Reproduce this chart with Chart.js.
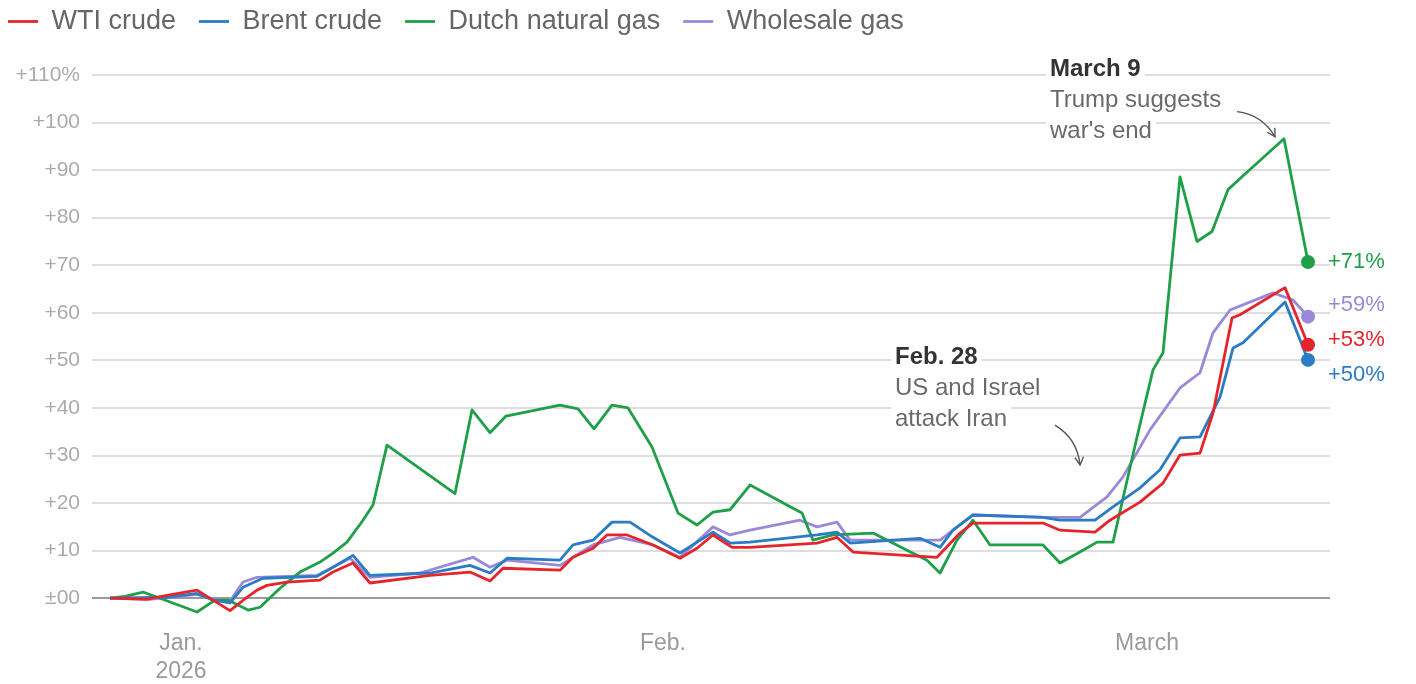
<!DOCTYPE html>
<html><head><meta charset="utf-8">
<script src="https://cdn.jsdelivr.net/npm/chart.js@4/dist/chart.umd.min.js"></script>
<style>html,body{margin:0;padding:0;background:#fff;}#wrap{width:1416px;height:684px;}</style>
</head><body><div id="wrap"><canvas id="c" width="1416" height="684"></canvas></div>
<script>
// x = trading-session index counted from Dec. 31, 2025 ; y = % change since then
const seriesNames = ['WTI crude', 'Brent crude', 'Dutch natural gas', 'Wholesale gas'];
const seriesColors = ['#e5252b', '#2b7cc4', '#1f9f48', '#9b89d8'];
const endLabels = ['+53%', '+50%', '+71%', '+59%'];

const wtiX = [0,1.48,2.28,3.48,4.12,4.8,5.48,5.88,6.28,7.08,8.4,8.92,9.72,10.4,12.8,14.4,15.2,15.72,18,18.52,19.32,19.88,20.68,21.72,22.8,23.48,24.12,24.88,25.6,28.28,29.08,29.72,33.08,34,34.52,37.32,38,39.4,40,41.2,42.12,42.8,43.6,44.12,44.88,45.2,47,47.92];
const wtiY = [0,-0.2,0.6,1.7,-0.4,-2.6,0.2,1.7,2.7,3.4,3.8,5.5,7.4,3.2,4.8,5.5,3.6,6.3,5.9,8.6,10.5,13.3,13.3,11.2,8.4,10.5,13.3,10.7,10.7,11.6,12.8,9.7,8.6,13.7,15.8,15.8,14.3,13.9,16.4,20.2,24.2,30.1,30.5,38.9,58.9,59.6,65.3,53.3];

const brentX = [0,2.28,3.48,4.12,4.8,5.32,6.12,8.28,8.92,9.72,10.4,12.8,14.4,15.2,15.88,18,18.52,19.32,20.08,20.8,21.72,22.8,24.12,24.8,25.6,28.28,29.08,29.6,32.4,33.2,33.72,34.52,37.32,38,39.4,40.12,41.2,42,42.8,43.6,44.4,44.92,45.32,47,47.92];
const brentY = [0,0.2,1.0,-0.4,-1.0,2.3,4.2,4.6,6.5,9.0,4.8,5.3,6.9,5.3,8.4,8.0,11.2,12.2,16.0,16.0,12.8,9.5,13.9,11.6,11.8,13.3,13.9,11.6,12.6,10.7,14.3,17.5,17.0,16.4,16.4,19.2,23.2,27.0,33.7,33.9,42.3,52.6,53.7,62.3,50.1];

const dutchX = [0,0.6,1.32,2,3.48,4.2,4.72,5.52,6,6.8,7.6,8.4,8.92,9.48,10.12,10.52,11.08,13.8,14.48,15.2,15.84,18,18.72,19.36,20.08,20.72,21.68,22.72,23.48,24.12,24.8,25.6,27.32,27.68,28.12,28.92,30.52,31.88,32.68,33.2,33.88,34.52,35.2,37.32,38,38.92,39.48,40.12,41.08,41.72,42.12,42.8,43.48,44.08,44.72,45.28,46.96,47.92];
const dutchY = [0,0.4,1.3,0,-2.9,-0.4,-0.4,-2.5,-1.9,2.1,5.5,7.6,9.5,11.8,16.4,19.6,32.2,22.0,39.6,34.8,38.3,40.6,39.8,35.6,40.6,40.0,31.8,17.9,15.4,18.1,18.6,23.8,18.9,17.9,12.2,13.3,13.7,10.1,8.0,5.3,12.2,16.4,11.2,11.2,7.4,10.1,11.8,11.8,33.9,48.0,51.6,88.6,75.0,77.1,85.9,88.6,96.6,70.7];

const wholesaleX = [0,1.48,3.48,4.12,4.8,5.32,5.88,8.28,8.92,9.6,10.4,12.4,14.52,15.2,15.88,18,19.32,20.4,21.72,22.8,24.12,24.8,25.6,27.6,28.28,29.08,29.6,33.2,34.52,37.48,38.8,39.88,40.52,41.6,42.8,43.6,44.12,44.8,46.52,47.32,47.92];
const wholesaleY = [0,-0.3,0.8,-0.2,-0.6,3.4,4.4,4.8,6.5,8.4,4.4,5.3,8.6,6.5,8.0,6.9,11.2,12.8,11.2,8.6,15.0,13.3,14.3,16.4,15.0,16.0,12.2,12.2,17.5,17.0,17.0,21.3,25.5,35.4,44.2,47.4,55.8,60.6,64.2,62.7,59.2];

const yTickValues = [0,10,20,30,40,50,60,70,80,90,100,110];
const yTickLabels = ['±00','+10','+20','+30','+40','+50','+60','+70','+80','+90','+100','+110%'];
const xTickValues = [2.84, 22.12, 41.48];
const xTickLabels = [['Jan.', '2026'], 'Feb.', 'March'];

const notes = [
  {x: 37.6, y: 111.2, title: 'March 9', lines: ['Trump suggests', "war's end"],
   arrow: [[45.08, 102.3], [46.6, 97.0]]},
  {x: 31.4, y: 50.6, title: 'Feb. 28', lines: ['US and Israel', 'attack Iran'],
   arrow: [[37.8, 36.4], [38.8, 28.0]]}
];

const FONT = "'Liberation Sans', Arial, sans-serif";
const xs = [wtiX, brentX, dutchX, wholesaleX];
const ys = [wtiY, brentY, dutchY, wholesaleY];
const endOffsets = [-5, 15, 0, -12];
const LW = 2.8;

const datasets = seriesNames.map((name, k) => ({
  label: name,
  data: xs[k].map((x, i) => ({x: x, y: ys[k][i]})),
  borderColor: seriesColors[k],
  backgroundColor: seriesColors[k],
  pointBackgroundColor: seriesColors[k],
  borderWidth: LW,
  tension: 0,
  borderJoinStyle: 'round',
  pointBorderWidth: 0,
  pointRadius: ctx => ctx.dataIndex === xs[k].length - 1 ? 7 : 0,
  pointHoverRadius: 0
}));

const legendSpace = {
  id: 'legendSpace',
  beforeLayout(chart) {
    const lg = chart.legend;
    if (lg && !lg._patched) {
      const orig = lg.fit;
      lg.fit = function () { orig.call(this); this.height += 30; };
      lg._patched = true;
    }
  }
};

const overlay = {
  id: 'overlay',
  afterDatasetsDraw(chart) {
    const ctx = chart.ctx, sx = chart.scales.x, sy = chart.scales.y;
    ctx.save();
    ctx.font = '22px ' + FONT;
    ctx.textBaseline = 'middle';
    ctx.textAlign = 'left';
    chart.data.datasets.forEach((ds, k) => {
      const meta = chart.getDatasetMeta(k);
      const p = meta.data[meta.data.length - 1];
      ctx.fillStyle = seriesColors[k];
      ctx.fillText(endLabels[k], p.x + 20, p.y + endOffsets[k]);
    });
    notes.forEach(n => {
      const px = sx.getPixelForValue(n.x), py = sy.getPixelForValue(n.y);
      const rows = [{t: n.title, bold: true}].concat(n.lines.map(t => ({t: t, bold: false})));
      rows.forEach((r, i) => {
        ctx.font = (r.bold ? 'bold ' : '') + '24px ' + FONT;
        const w = ctx.measureText(r.t).width;
        const yy = py + i * 31;
        ctx.fillStyle = '#fff';
        ctx.fillRect(px - 4, yy - 14, w + 8, 28);
        ctx.fillStyle = r.bold ? '#333' : '#6a6a6a';
        ctx.fillText(r.t, px, yy);
      });
      const a = sx.getPixelForValue(n.arrow[0][0]), b = sy.getPixelForValue(n.arrow[0][1]);
      const c = sx.getPixelForValue(n.arrow[1][0]), d = sy.getPixelForValue(n.arrow[1][1]);
      const cx = (a + c) / 2 + (d - b) * 0.25, cy = (b + d) / 2 - (c - a) * 0.25;
      ctx.strokeStyle = '#555';
      ctx.lineWidth = 1.4;
      ctx.beginPath();
      ctx.moveTo(a, b);
      ctx.quadraticCurveTo(cx, cy, c, d);
      ctx.stroke();
      const ang = Math.atan2(d - cy, c - cx);
      ctx.beginPath();
      ctx.moveTo(c - 9 * Math.cos(ang - 0.5), d - 9 * Math.sin(ang - 0.5));
      ctx.lineTo(c, d);
      ctx.lineTo(c - 9 * Math.cos(ang + 0.5), d - 9 * Math.sin(ang + 0.5));
      ctx.stroke();
    });
    ctx.restore();
  }
};

new Chart(document.getElementById('c'), {
  type: 'line',
  data: {datasets: datasets},
  plugins: [legendSpace, overlay],
  options: {
    responsive: false,
    animation: false,
    devicePixelRatio: 1,
    layout: {padding: {left: 0, right: 86, top: 0, bottom: 0}},
    plugins: {
      tooltip: {enabled: false},
      legend: {
        position: 'top', align: 'start',
        labels: {
          usePointStyle: true, pointStyle: 'line', pointStyleWidth: 30,
          font: {family: FONT, size: 27}, color: '#666', padding: 8,
          generateLabels: chart => Chart.defaults.plugins.legend.labels.generateLabels(chart)
            .map(it => Object.assign(it, {lineWidth: LW, strokeStyle: seriesColors[it.datasetIndex], text: it.text + '  '}))
        }
      }
    },
    scales: {
      x: {
        type: 'linear', min: -0.72, max: 48.8,
        grid: {display: false}, border: {display: false},
        afterBuildTicks: s => { s.ticks = xTickValues.map(v => ({value: v})); },
        afterFit: s => { s.height = 62; },
        ticks: {
          autoSkip: false, maxRotation: 0, padding: 0,
          font: {family: FONT, size: 23, lineHeight: 1.2}, color: '#9a9a9a',
          callback: (v, i) => xTickLabels[i]
        }
      },
      y: {
        min: -5, max: 110,
        afterBuildTicks: s => { s.ticks = yTickValues.map(v => ({value: v})); },
        afterFit: s => { s.width = 92; },
        border: {display: false},
        grid: {
          drawTicks: false, lineWidth: 2,
          color: c => (c.tick && c.tick.value === 0) ? '#9a9a9a' : '#dedede'
        },
        ticks: {
          padding: 12, font: {family: FONT, size: 21}, color: '#ababab',
          callback: (v, i) => yTickLabels[i]
        }
      }
    }
  }
});
</script></body></html>
